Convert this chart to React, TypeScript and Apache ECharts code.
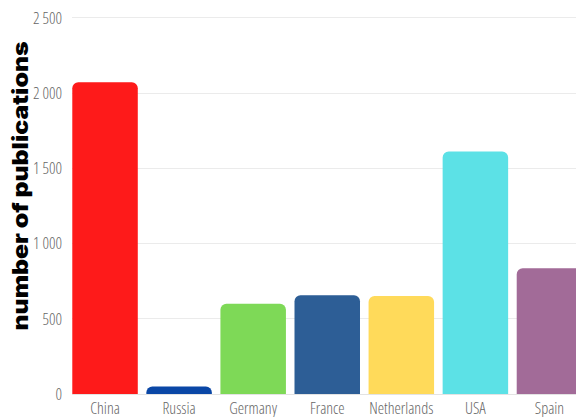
import React, { useEffect, useRef } from "react";
import * as echarts from "echarts";

const categories = ["China", "Russia", "Germany", "France", "Netherlands", "USA", "Spain"];
const publications = [2070, 50, 600, 655, 650, 1610, 835];
const barColors = ["#fe1a1a", "#0a47a6", "#7ed957", "#2d5e96", "#ffda5a", "#5ce1e6", "#a26b98"];
const yTicks = [0, 500, 1000, 1500, 2000, 2500];
const yTitle = "number of publications";

function fmt(v: number): string {
  if (v >= 1000) {
    return `${Math.floor(v / 1000)} ${String(v % 1000).padStart(3, "0")}`;
  }
  return String(v);
}

export default function App() {
  const ref = useRef<HTMLDivElement>(null);
  useEffect(() => {
    if (!ref.current) return;
    const chart = echarts.init(ref.current, undefined, { renderer: "svg" });
    const labelFont = "'Open Sans';font-stretch:condensed";
    chart.setOption({
      animation: false,
      backgroundColor: "#ffffff",
      grid: { left: 68, right: 3.5, top: 17.5, bottom: 23, containLabel: false },
      xAxis: {
        type: "category",
        data: categories,
        axisLine: { show: true, lineStyle: { color: "#e3e3e3", width: 1 } },
        axisTick: { show: false },
        axisLabel: {
          interval: 0,
          margin: 9,
          color: "#666666",
          fontSize: 16,
          fontWeight: 300,
          fontFamily: labelFont,
        },
      },
      yAxis: {
        type: "value",
        min: yTicks[0],
        max: yTicks[yTicks.length - 1],
        interval: 500,
        axisLine: { show: false },
        axisTick: { show: false },
        splitLine: { lineStyle: { color: "#ebebeb", width: 1 } },
        axisLabel: {
          margin: 6,
          color: "#666666",
          fontSize: 16,
          fontWeight: 300,
          fontFamily: labelFont,
          formatter: (v: number) => fmt(v),
        },
      },
      graphic: [
        {
          type: "rect",
          z: 1,
          shape: { x: 64, y: 5, width: 8, height: 391 },
          style: { fill: "#ffffff" },
        },
        {
          type: "text",
          x: 21,
          y: 186,
          rotation: Math.PI / 2,
          scaleX: 1.18,
          style: {
            text: yTitle,
            fill: "#000000",
            font: "900 21px Inter",
            textAlign: "center",
            textVerticalAlign: "middle",
          },
        },
      ],
      series: [
        {
          type: "bar",
          barWidth: 65.5,
          data: publications.map((v, i) => ({
            value: v,
            itemStyle: { color: barColors[i], borderRadius: [6, 6, 0, 0] },
          })),
        },
      ],
    });
    return () => chart.dispose();
  }, []);
  return (
    <div style={{ position: "fixed", left: 0, top: 0, width: 576, height: 417, overflow: "hidden" }}>
      <div ref={ref} style={{ width: 590, height: 417 }} />
    </div>
  );
}
